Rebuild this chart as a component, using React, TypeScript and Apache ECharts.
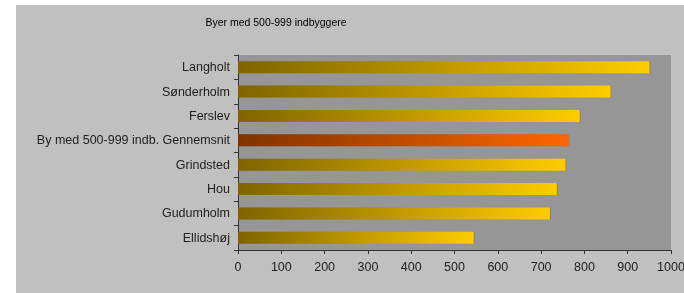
import React, { useEffect, useRef } from "react";
import * as echarts from "echarts";

const categories = [
  "Langholt",
  "Sønderholm",
  "Ferslev",
  "By med 500-999 indb. Gennemsnit",
  "Grindsted",
  "Hou",
  "Gudumholm",
  "Ellidshøj",
];
const values = [950, 860, 789, 763, 756, 736, 720, 544];
const highlighted = ["By med 500-999 indb. Gennemsnit"];
const titleText = "Byer med 500-999 indbyggere";

export default function App() {
  const ref = useRef<HTMLDivElement>(null);
  useEffect(() => {
    if (!ref.current) return;
    const chart = echarts.init(ref.current, undefined, { renderer: "svg" });
    const yellow = new echarts.graphic.LinearGradient(0, 0, 1, 0, [
      { offset: 0, color: "#7f6400" },
      { offset: 1, color: "#ffcc00" },
    ]);
    const orange = new echarts.graphic.LinearGradient(0, 0, 1, 0, [
      { offset: 0, color: "#7f3300" },
      { offset: 1, color: "#ff6600" },
    ]);
    chart.setOption({
      animation: false,
      textStyle: { fontFamily: "Liberation Sans, Arial, sans-serif" },
      graphic: [
        {
          type: "rect",
          z: -10,
          silent: true,
          shape: { x: 16, y: 5, width: 668, height: 288 },
          style: { fill: "#c0c0c0" },
        },
        {
          type: "text",
          x: 276,
          y: 22,
          style: {
            text: titleText,
            fill: "#000",
            font: "10.5px Liberation Sans, Arial, sans-serif",
            textAlign: "center",
            textVerticalAlign: "middle",
          },
        },
      ],
      grid: {
        left: 238,
        right: 13,
        top: 55,
        bottom: 43,
        show: true,
        backgroundColor: "#969696",
        borderWidth: 0,
        outerBoundsMode: "none",
        containLabel: false,
      },
      xAxis: {
        type: "value",
        min: 0,
        max: 1000,
        interval: 100,
        splitLine: { show: false },
        axisLine: { show: true, lineStyle: { color: "#333", width: 1 } },
        axisTick: { show: true, length: 4, lineStyle: { color: "#333" } },
        axisLabel: {
          color: "#222",
          fontSize: 12.5,
          margin: 10,
          formatter: (v: number) => String(v),
        },
      },
      yAxis: {
        type: "category",
        inverse: true,
        data: categories,
        axisLine: { show: true, lineStyle: { color: "#333", width: 1 } },
        axisTick: { show: true, length: 4, lineStyle: { color: "#333" } },
        axisLabel: { color: "#222", fontSize: 12.5, margin: 8 },
      },
      series: [
        {
          type: "bar",
          barWidth: 12,
          data: categories.map((c, i) => ({
            value: values[i],
            itemStyle: {
              color: highlighted.includes(c) ? orange : yellow,
            },
          })),
          itemStyle: {
            shadowColor: "rgba(0,0,0,0.15)",
            shadowOffsetX: 1,
            shadowBlur: 0,
          },
        },
      ],
    });
    return () => chart.dispose();
  }, []);
  return (
    <div
      ref={ref}
      style={{ position: "fixed", left: 0, top: 0, width: 684, height: 293 }}
    />
  );
}
